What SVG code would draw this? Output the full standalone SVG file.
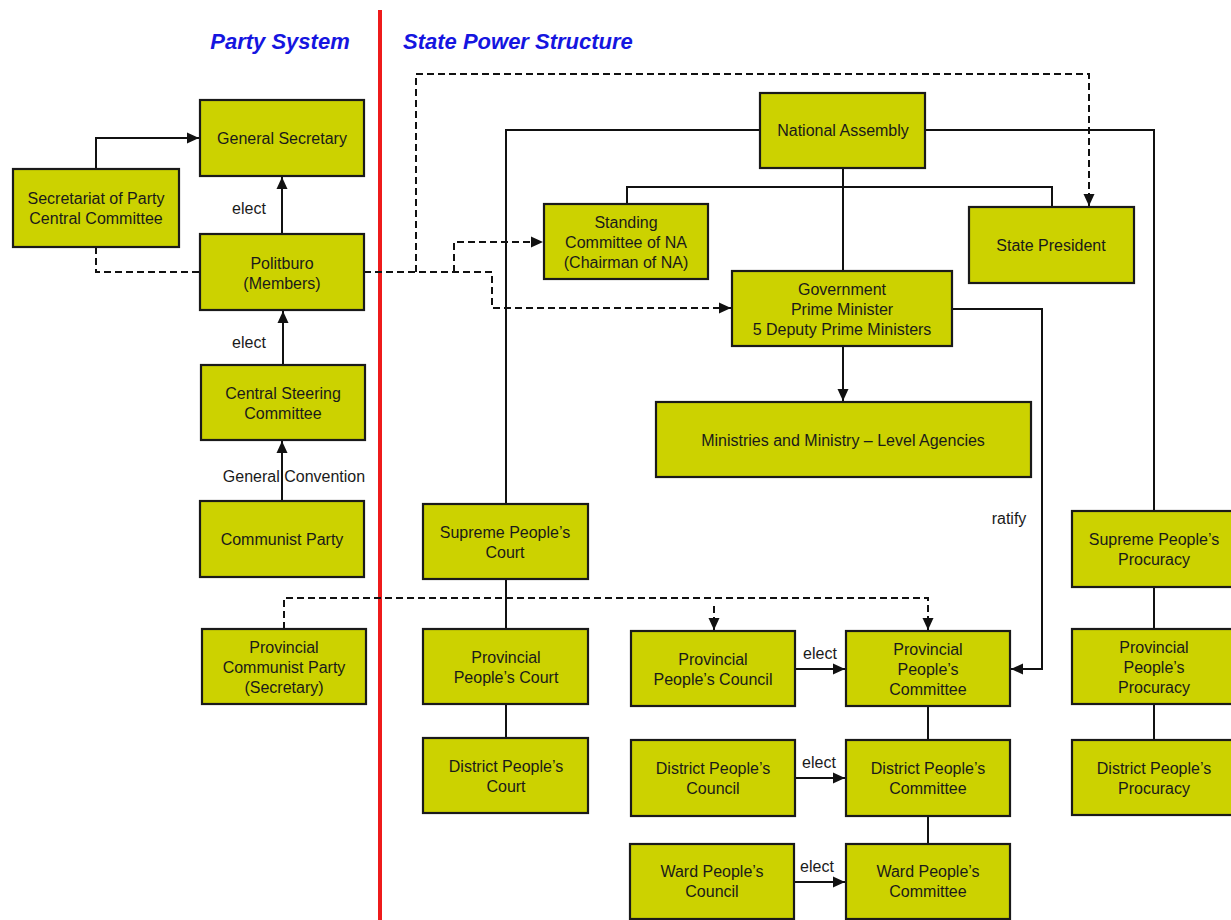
<svg xmlns="http://www.w3.org/2000/svg" width="1231" height="920" viewBox="0 0 1231 920">
<style>
.box{fill:#CCD200;stroke:#1a1a1a;stroke-width:2.2}
.t{font-family:"Liberation Sans",Arial,sans-serif;font-size:16px;fill:#1a1a1a;text-anchor:middle}
.lbl{font-family:"Liberation Sans",Arial,sans-serif;font-size:16px;fill:#1a1a1a;text-anchor:middle}
.title{font-family:"Liberation Sans",Arial,sans-serif;font-size:22px;font-weight:bold;font-style:italic;fill:#1515E0}
.c{fill:none;stroke:#111;stroke-width:2}
.d{fill:none;stroke:#111;stroke-width:2;stroke-dasharray:7,4}
</style>
<defs>
<marker id="ah" viewBox="0 0 12 12" refX="12" refY="6" markerWidth="12" markerHeight="12" markerUnits="userSpaceOnUse" orient="auto">
<path d="M0,0.5 L12,6 L0,11.5 z" fill="#111"/>
</marker>
</defs>
<rect width="1231" height="920" fill="#fff"/>
<line x1="380" y1="10" x2="380" y2="920" stroke="#EE1B1B" stroke-width="4"/>
<text class="title" x="280" y="49" text-anchor="middle">Party System</text>
<text class="title" x="403" y="49">State Power Structure</text>

<g id="connectors">
<path class="c" d="M96,169 V138 H199" marker-end="url(#ah)"/>
<path class="c" d="M282,234 V177" marker-end="url(#ah)"/>
<path class="c" d="M283,365 V311" marker-end="url(#ah)"/>
<path class="c" d="M282,501 V441" marker-end="url(#ah)"/>
<path class="d" d="M96,247 V272 H200"/>
<path class="d" d="M364,272 H492 V308 H731" marker-end="url(#ah)"/>
<path class="d" d="M416,272 V74 H1089 V206" marker-end="url(#ah)"/>
<path class="d" d="M454,272 V242 H543" marker-end="url(#ah)"/>
<path class="c" d="M761,130 H506 V504"/>
<path class="c" d="M925,130 H1154 V511"/>
<path class="c" d="M843,168 V271"/>
<path class="c" d="M627,204 V187 H1052 V207"/>
<path class="c" d="M843,346 V401" marker-end="url(#ah)"/>
<path class="c" d="M952,309 H1042 V669 H1011" marker-end="url(#ah)"/>
<path class="c" d="M506,579 V629 M506,704 V738"/>
<path class="c" d="M1154,587 V629 M1154,704 V740"/>
<path class="c" d="M928,706 V740 M928,816 V844"/>
<path class="c" d="M795,669 H845" marker-end="url(#ah)"/>
<path class="c" d="M795,778 H845" marker-end="url(#ah)"/>
<path class="c" d="M794,882 H845" marker-end="url(#ah)"/>
<path class="d" d="M284,629 V598 H928 V630" marker-end="url(#ah)"/>
<path class="d" d="M714,606 V630" marker-end="url(#ah)"/>
<text class="lbl" x="249" y="214">elect</text>
<text class="lbl" x="249" y="348">elect</text>
<text class="lbl" x="294" y="482">General Convention</text>
<text class="lbl" x="1009" y="524">ratify</text>
<text class="lbl" x="820" y="659">elect</text>
<text class="lbl" x="819" y="768">elect</text>
<text class="lbl" x="817" y="872">elect</text>
</g>

<g id="general-secretary"><rect class="box" x="200" y="100" width="164" height="76"/><text class="t" x="282" y="144">General Secretary</text></g>
<g id="secretariat"><rect class="box" x="13" y="169" width="166" height="78"/><text class="t" x="96" y="204">Secretariat of Party</text><text class="t" x="96" y="224">Central Committee</text></g>
<g id="politburo"><rect class="box" x="200" y="234" width="164" height="76"/><text class="t" x="282" y="269">Politburo</text><text class="t" x="282" y="289">(Members)</text></g>
<g id="central-steering"><rect class="box" x="201" y="365" width="164" height="75"/><text class="t" x="283" y="399">Central Steering</text><text class="t" x="283" y="419">Committee</text></g>
<g id="communist-party"><rect class="box" x="200" y="501" width="164" height="76"/><text class="t" x="282" y="545">Communist Party</text></g>
<g id="provincial-communist-party"><rect class="box" x="202" y="629" width="164" height="75"/><text class="t" x="284" y="653">Provincial</text><text class="t" x="284" y="673">Communist Party</text><text class="t" x="284" y="693">(Secretary)</text></g>

<g id="national-assembly"><rect class="box" x="760" y="93" width="165" height="75"/><text class="t" x="843" y="136">National Assembly</text></g>
<g id="standing-committee"><rect class="box" x="544" y="204" width="164" height="75"/><text class="t" x="626" y="228">Standing</text><text class="t" x="626" y="248">Committee of NA</text><text class="t" x="626" y="268">(Chairman of NA)</text></g>
<g id="state-president"><rect class="box" x="969" y="207" width="165" height="76"/><text class="t" x="1051" y="251">State President</text></g>
<g id="government"><rect class="box" x="732" y="271" width="220" height="75"/><text class="t" x="842" y="295">Government</text><text class="t" x="842" y="315">Prime Minister</text><text class="t" x="842" y="335">5 Deputy Prime Ministers</text></g>
<g id="ministries"><rect class="box" x="656" y="402" width="375" height="75"/><text class="t" x="843" y="446">Ministries and Ministry – Level Agencies</text></g>

<g id="supreme-court"><rect class="box" x="423" y="504" width="165" height="75"/><text class="t" x="505" y="538">Supreme People’s</text><text class="t" x="505" y="558">Court</text></g>
<g id="provincial-court"><rect class="box" x="423" y="629" width="165" height="75"/><text class="t" x="506" y="663">Provincial</text><text class="t" x="506" y="683">People’s Court</text></g>
<g id="district-court"><rect class="box" x="423" y="738" width="165" height="75"/><text class="t" x="506" y="772">District People’s</text><text class="t" x="506" y="792">Court</text></g>

<g id="provincial-council"><rect class="box" x="631" y="631" width="164" height="75"/><text class="t" x="713" y="665">Provincial</text><text class="t" x="713" y="685">People’s Council</text></g>
<g id="provincial-committee"><rect class="box" x="846" y="631" width="164" height="75"/><text class="t" x="928" y="655">Provincial</text><text class="t" x="928" y="675">People’s</text><text class="t" x="928" y="695">Committee</text></g>
<g id="district-council"><rect class="box" x="631" y="740" width="164" height="76"/><text class="t" x="713" y="774">District People’s</text><text class="t" x="713" y="794">Council</text></g>
<g id="district-committee"><rect class="box" x="846" y="740" width="164" height="76"/><text class="t" x="928" y="774">District People’s</text><text class="t" x="928" y="794">Committee</text></g>
<g id="ward-council"><rect class="box" x="630" y="844" width="164" height="75"/><text class="t" x="712" y="877">Ward People’s</text><text class="t" x="712" y="897">Council</text></g>
<g id="ward-committee"><rect class="box" x="846" y="844" width="164" height="75"/><text class="t" x="928" y="877">Ward People’s</text><text class="t" x="928" y="897">Committee</text></g>

<g id="supreme-procuracy"><rect class="box" x="1072" y="511" width="164" height="76"/><text class="t" x="1154" y="545">Supreme People’s</text><text class="t" x="1154" y="565">Procuracy</text></g>
<g id="provincial-procuracy"><rect class="box" x="1072" y="629" width="164" height="75"/><text class="t" x="1154" y="653">Provincial</text><text class="t" x="1154" y="673">People’s</text><text class="t" x="1154" y="693">Procuracy</text></g>
<g id="district-procuracy"><rect class="box" x="1072" y="740" width="164" height="75"/><text class="t" x="1154" y="774">District People’s</text><text class="t" x="1154" y="794">Procuracy</text></g>
</svg>
